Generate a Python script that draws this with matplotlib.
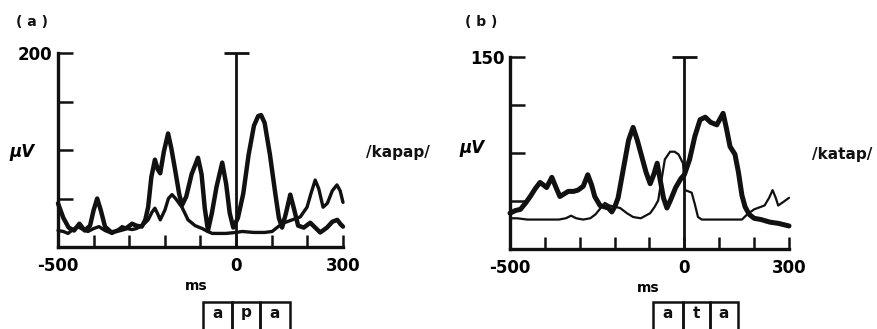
import numpy as np
import matplotlib.pyplot as plt
from matplotlib.patches import Rectangle

# panel (a) /kapap/ : time in ms, amplitude in microvolts
kapap_ms_1 = [-500, -485, -470, -455, -440, -425, -410, -400, -390, -380, -368, -350,
              -330, -310, -292, -280, -265, -255, -247, -238, -228, -220, -213, -203,
              -191, -182, -171, -160, -152, -140, -125, -107, -97, -88, -79, -68, -55,
              -39, -28, -18, -8, 5, 20, 35, 50, 62, 70, 80, 95, 110, 120, 129, 140, 152,
              162, 174, 190, 208, 222, 236, 255, 270, 284, 292, 300]
kapap_uv_1 = [45, 30, 20, 17, 24, 17, 22, 38, 50, 38, 21, 15,
              17, 19, 24, 22, 21, 28, 41, 72, 90, 80, 76, 98,
              117, 102, 79, 55, 43, 52, 75, 92, 75, 40, 17, 35, 62,
              87, 65, 35, 20, 30, 55, 95, 125, 135, 136, 128, 95, 55, 30, 20, 35, 54,
              40, 22, 20, 25, 20, 15, 20, 26, 28, 24, 21]

kapap_ms_2 = [-500, -485, -472, -458, -444, -430, -416, -400, -385, -368, -348, -334,
              -320, -306, -292, -280, -270, -258, -247, -236, -228, -220, -213, -200,
              -190, -180, -170, -152, -135, -115, -95, -80, -67, -50, -29, 0, 17, 50,
              80, 101, 118, 135, 150, 165, 180, 199, 210, 222, 232, 244, 256, 270, 283,
              292, 300]
kapap_uv_2 = [17, 16, 14, 18, 21, 18, 16, 19, 21, 17, 14, 17,
              21, 19, 18, 19, 21, 24, 28, 36, 40, 34, 28, 38,
              50, 54, 50, 41, 28, 22, 19, 16, 14, 14, 14, 15, 16, 15,
              15, 16, 21, 25, 27, 29, 31, 41, 55, 69, 60, 41, 45, 58, 64,
              58, 46]

# panel (b) /katap/
katap_ms_1 = [-500, -485, -470, -455, -442, -428, -414, -404, -395, -380, -368, -357,
              -345, -333, -318, -305, -290, -277, -266, -257, -242, -230, -218, -208,
              -198, -190, -180, -170, -160, -147, -135, -122, -110, -98, -88, -78, -70,
              -60, -50, -40, -25, -10, 0, 15, 30, 45, 60, 75, 93, 111, 120, 131, 145,
              155, 165, 174, 186, 200, 220, 245, 270, 300]
katap_uv_1 = [28, 30, 31, 36, 41, 47, 52, 50, 48, 56, 48, 41,
              43, 45, 45, 46, 49, 58, 50, 41, 34, 33, 32, 29,
              34, 40, 55, 70, 85, 95, 85, 72, 60, 51, 58, 67, 55,
              40, 32, 38, 48, 55, 58, 70, 88, 101, 103, 99, 97, 106, 95, 80, 74,
              60, 42, 33, 27, 24, 23, 21, 20, 18]

katap_ms_2 = [-500, -480, -450, -420, -390, -360, -340, -325, -310, -290, -270, -255,
              -240, -228, -215, -200, -184, -165, -147, -125, -98, -85, -75, -65, -56,
              -41, -28, -17, -4, 2, 12, 21, 30, 39, 50, 60, 100, 140, 165, 180, 200,
              230, 243, 253, 262, 269, 285, 300]
katap_uv_2 = [24, 24, 23, 23, 23, 23, 24, 26, 24, 23, 24, 27,
              32, 36, 34, 33, 32, 28, 25, 24, 28, 33, 38, 55, 70,
              76, 76, 74, 67, 46, 45, 44, 35, 25, 23, 23, 23, 23, 23, 27, 31,
              34, 40, 46, 40, 34, 37, 40]

x_ticks = [-500, -400, -300, -200, -100, 0, 100, 200, 300]
x_labels = ['-500', '', '', '', '', '0', '', '', '300']

plt.rcParams['font.family'] = ['DejaVu Sans']
plt.rcParams['font.weight'] = 'bold'
plt.rcParams['axes.labelweight'] = 'bold'
INK = '#111111'

fig = plt.figure(figsize=(8.78, 3.29), dpi=100)
W, H = 878, 329


def px_axes(left, top, right, bottom):
    return fig.add_axes([left / W, 1 - bottom / H, (right - left) / W, (bottom - top) / H])


def erp_panel(ax, ymax, traces, ylab_xy, xlab_xy):
    for ms, uv, lw in traces:
        ax.plot(ms, uv, color=INK, lw=lw, solid_joinstyle='round',
                solid_capstyle='round', clip_on=False)
    # stimulus onset marker with a cap at full scale
    ax.vlines(0, 0, ymax, color=INK, lw=2.0, clip_on=False)
    ax.hlines(ymax, -35, 35, color=INK, lw=2.0, clip_on=False)

    ax.set_xlim(-500, 300)
    ax.set_ylim(0, ymax)
    for side in ('top', 'right'):
        ax.spines[side].set_visible(False)
    for side in ('left', 'bottom'):
        ax.spines[side].set_linewidth(2.4)
        ax.spines[side].set_color(INK)

    ax.set_xticks(x_ticks)
    ax.set_xticklabels(x_labels)
    yt = [ymax * k / 4 for k in range(1, 5)]
    ax.set_yticks(yt)
    ax.set_yticklabels(['', '', '', f'{ymax:g}'])
    ax.tick_params(axis='x', direction='in', length=8.5, width=1.8, color=INK,
                   labelsize=12, pad=7)
    ax.tick_params(axis='y', direction='in', length=10.5, width=1.8, color=INK,
                   labelsize=12, pad=4)

    ax.set_ylabel('\u03bcV', rotation=0, fontsize=12, va='center', ha='center',
                  fontstyle='italic', fontweight='bold')
    ax.yaxis.set_label_coords(*ylab_xy)
    ax.set_xlabel('ms', fontsize=10, va='center', fontweight='bold')
    ax.xaxis.set_label_coords(*xlab_xy)


def segment_box(x0, cells, labels):
    edges = np.cumsum([x0] + cells)
    for left, width, lab in zip(edges[:-1], cells, labels):
        fig.add_artist(Rectangle((left / W, -0.05), width / W, (H - 302) / H + 0.05,
                                 transform=fig.transFigure, fill=False,
                                 edgecolor=INK, lw=1.8))
        fig.text((left + width / 2) / W, 1 - 313 / H, lab, ha='center', va='center',
                 fontsize=11, color=INK)


ax_a = px_axes(58, 53, 343, 247)
erp_panel(ax_a, 200,
          [(kapap_ms_2, kapap_uv_2, 2.4), (kapap_ms_1, kapap_uv_1, 3.2)],
          (-0.126, 0.49), (0.484, -0.20))

ax_b = px_axes(510, 57, 789, 249)
erp_panel(ax_b, 150,
          [(katap_ms_2, katap_uv_2, 1.6), (katap_ms_1, katap_uv_1, 3.6)],
          (-0.136, 0.526), (0.495, -0.203))

fig.text(32 / W, 1 - 22 / H, '( a )', ha='center', va='center', fontsize=10, color=INK)
fig.text(481 / W, 1 - 22 / H, '( b )', ha='center', va='center', fontsize=10, color=INK)
fig.text(398 / W, 1 - 152 / H, '/kapap/', ha='center', va='center', fontsize=11, color=INK)
fig.text(812 / W, 1 - 154 / H, '/katap/', ha='left', va='center', fontsize=11, color=INK)

segment_box(203, [29, 28, 30], ['a', 'p', 'a'])
segment_box(653, [30, 27, 28], ['a', 't', 'a'])

fig.savefig('out.png', dpi=100)
